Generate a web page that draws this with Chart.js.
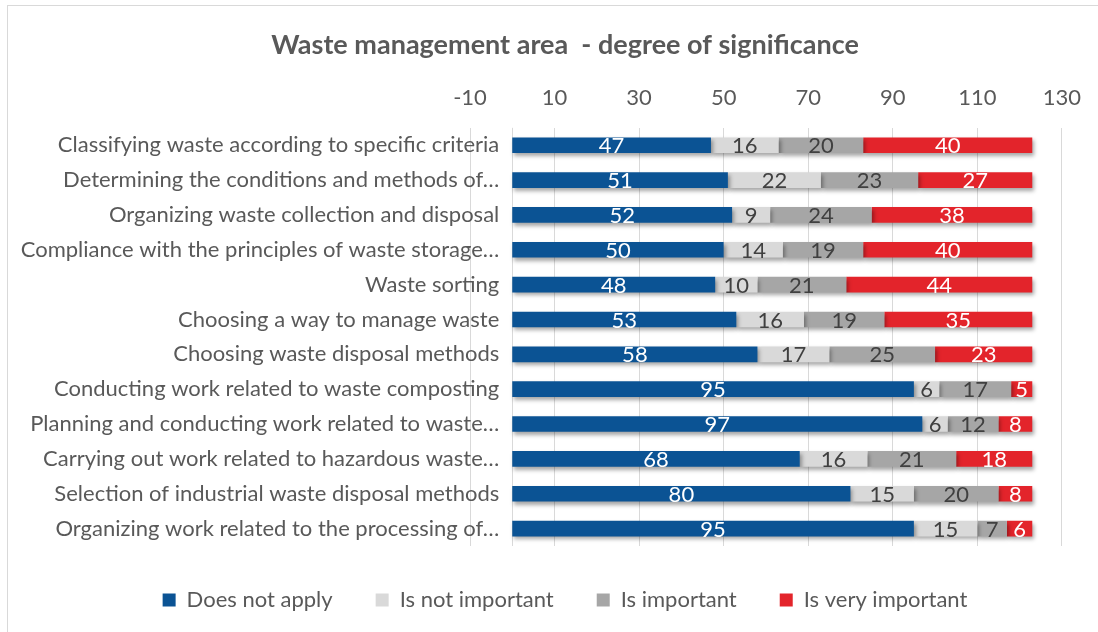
<!DOCTYPE html>
<html>
<head>
<meta charset="utf-8">
<title>Waste management area - degree of significance</title>
<script src="https://cdn.jsdelivr.net/npm/chart.js@4.4.1/dist/chart.umd.min.js"></script>
<style>
    html, body { margin: 0; padding: 0; background: #ffffff; overflow: hidden; }
    .frame { position: absolute; left: 7px; top: 5px; width: 1200px; height: 700px; border: 1px solid #d9d9d9; }
    .chart-box { position: absolute; left: 0; top: 0; width: 1098px; height: 632px; }
</style>
</head>
<body>
<div class="frame"></div>
<div class="chart-box"><canvas id="wasteChart"></canvas></div>
<script>
// Chart data
const categories = [
    'Classifying waste according to specific criteria',
    'Determining the conditions and methods of…',
    'Organizing waste collection and disposal',
    'Compliance with the principles of waste storage…',
    'Waste sorting',
    'Choosing a way to manage waste',
    'Choosing waste disposal methods',
    'Conducting work related to waste composting',
    'Planning and conducting work related to waste…',
    'Carrying out work related to hazardous waste…',
    'Selection of industrial waste disposal methods',
    'Organizing work related to the processing of…'
];
const doesNotApply    = [47, 51, 52, 50, 48, 53, 58, 95, 97, 68, 80, 95];
const isNotImportant  = [16, 22, 9, 14, 10, 16, 17, 6, 6, 16, 15, 15];
const isImportant     = [20, 23, 24, 19, 21, 19, 25, 17, 12, 21, 20, 7];
const isVeryImportant = [40, 27, 38, 40, 44, 35, 23, 5, 8, 18, 8, 6];

const seriesNames = ['Does not apply', 'Is not important', 'Is important', 'Is very important'];
const seriesValues = [doesNotApply, isNotImportant, isImportant, isVeryImportant];
const seriesColors = ['#0b5394', '#d9d9d9', '#a6a6a6', '#e3242b'];
const valueColors = ['#ffffff', '#404040', '#404040', '#ffffff'];

const tickValues = [-10, 10, 30, 50, 70, 90, 110, 130];

const TEXT_COLOR = '#595959';
const GRID_COLOR = '#d9d9d9';
const FONT_FAMILY = 'Lato, "Open Sans", sans-serif';
const FONT_SIZE = 22;

Chart.defaults.font.family = FONT_FAMILY;

// vertical line where the category axis crosses (value 0)
const zeroLinePlugin = {
    id: 'zeroLine',
    beforeDatasetsDraw(chart) {
        const { ctx, chartArea, scales } = chart;
        const x = Math.round(scales.x.getPixelForValue(0)) + 0.5;
        ctx.save();
        ctx.strokeStyle = GRID_COLOR;
        ctx.lineWidth = 1;
        ctx.beginPath();
        ctx.moveTo(x, chartArea.top);
        ctx.lineTo(x, chartArea.bottom);
        ctx.stroke();
        ctx.restore();
    }
};

// category names sit next to the zero line, like the Excel axis
const categoryLabelPlugin = {
    id: 'categoryLabels',
    afterDraw(chart) {
        const { ctx, scales } = chart;
        const x = scales.x.getPixelForValue(0) - 13;
        ctx.save();
        ctx.font = FONT_SIZE + 'px ' + FONT_FAMILY;
        ctx.fillStyle = TEXT_COLOR;
        ctx.textAlign = 'right';
        ctx.textBaseline = 'middle';
        chart.data.labels.forEach((label, i) => {
            ctx.fillText(label, x, scales.y.getPixelForTick(i));
        });
        ctx.restore();
    }
};

// soft drop shadow under the bars
const barShadowPlugin = {
    id: 'barShadow',
    beforeDatasetDraw(chart) {
        const ctx = chart.ctx;
        ctx.save();
        ctx.shadowColor = 'rgba(0, 0, 0, 0.35)';
        ctx.shadowBlur = 4;
        ctx.shadowOffsetX = 2;
        ctx.shadowOffsetY = 3;
    },
    afterDatasetDraw(chart) {
        chart.ctx.restore();
    }
};

// value in the middle of each segment
const segmentLabelPlugin = {
    id: 'segmentLabels',
    afterDatasetsDraw(chart) {
        const ctx = chart.ctx;
        ctx.save();
        ctx.font = FONT_SIZE + 'px ' + FONT_FAMILY;
        ctx.textAlign = 'center';
        ctx.textBaseline = 'middle';
        chart.data.datasets.forEach((ds, i) => {
            const meta = chart.getDatasetMeta(i);
            ctx.fillStyle = valueColors[i];
            meta.data.forEach((bar, j) => {
                const { x, base, y } = bar.getProps(['x', 'base', 'y'], true);
                ctx.fillText(String(ds.data[j]), (x + base) / 2, y + 1);
            });
        });
        ctx.restore();
    }
};

const ctx = document.getElementById('wasteChart').getContext('2d');
const chart = new Chart(ctx, {
    type: 'bar',
    data: {
        labels: categories,
        datasets: seriesNames.map((name, i) => ({
            label: name,
            data: seriesValues[i],
            backgroundColor: seriesColors[i],
            borderWidth: 0,
            categoryPercentage: 1,
            barPercentage: 0.45
        }))
    },
    options: {
        responsive: true,
        maintainAspectRatio: false,
        animation: false,
        indexAxis: 'y',
        layout: {
            padding: { left: 48, right: 16, top: 0, bottom: 11 }
        },
        plugins: {
            title: {
                display: true,
                text: 'Waste management area  - degree of significance',
                color: TEXT_COLOR,
                font: { size: 27, weight: 'bold' },
                padding: { top: 29, bottom: 6 }
            },
            legend: {
                position: 'bottom',
                labels: {
                    boxWidth: 13,
                    boxHeight: 13,
                    padding: 43,
                    color: TEXT_COLOR,
                    font: { size: FONT_SIZE }
                }
            },
            tooltip: { enabled: false }
        },
        scales: {
            x: {
                position: 'top',
                stacked: true,
                min: -10,
                max: 130,
                afterBuildTicks: scale => {
                    scale.ticks = tickValues.map(v => ({ value: v }));
                },
                grid: { color: GRID_COLOR, drawTicks: false },
                border: { display: false },
                ticks: { color: TEXT_COLOR, padding: 17, font: { size: FONT_SIZE } }
            },
            y: {
                stacked: true,
                grid: { display: false },
                border: { display: false },
                ticks: { display: false },
                afterFit: scale => {
                    scale.width = 422;
                }
            }
        }
    },
    plugins: [zeroLinePlugin, barShadowPlugin, segmentLabelPlugin, categoryLabelPlugin]
});
</script>
</body>
</html>
